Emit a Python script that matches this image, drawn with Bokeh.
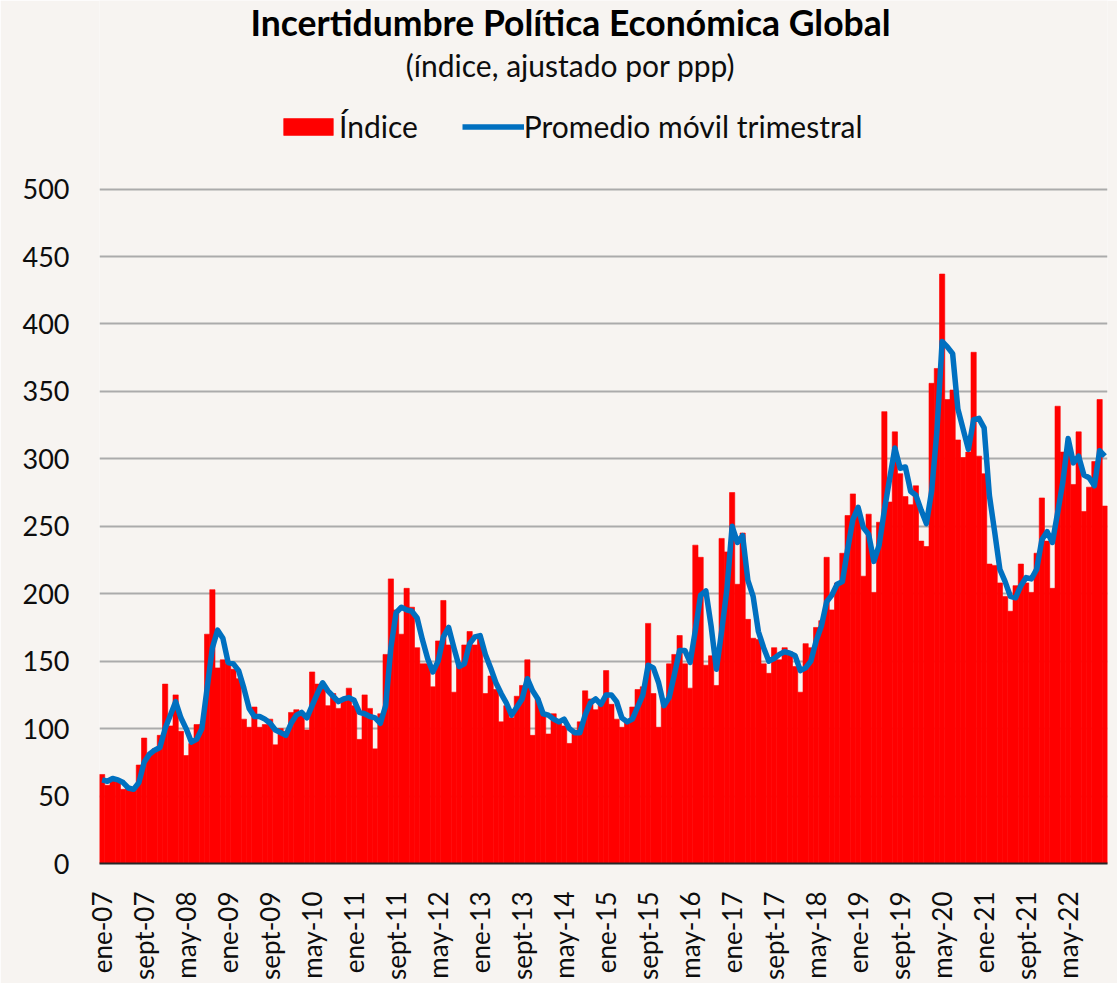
import math
from bokeh.plotting import figure
from bokeh.models import (ColumnDataSource, FixedTicker, Legend, LegendItem, Label, Range1d)
from bokeh.embed import file_html
from bokeh.resources import INLINE

# ---------------- data ----------------
tick_labels = ["ene-07", "sept-07", "may-08", "ene-09", "sept-09", "may-10", "ene-11", "sept-11",
               "may-12", "ene-13", "sept-13", "may-14", "ene-15", "sept-15", "may-16", "ene-17",
               "sept-17", "may-18", "ene-19", "sept-19", "may-20", "ene-21", "sept-21", "may-22"]

# Monthly index, Jan 2007 - Dec 2022 (one row per year)
indice = [
    66, 58, 62, 61, 55, 57, 55, 73, 93, 80, 85, 95,            # 2007
    133, 102, 125, 98, 80, 89, 103, 103, 170, 203, 145, 151,   # 2008
    148, 144, 137, 107, 101, 116, 101, 103, 107, 88, 100, 98,  # 2009
    112, 114, 110, 99, 142, 133, 130, 117, 126, 115, 121, 130, # 2010
    117, 92, 125, 115, 85, 111, 155, 211, 188, 170, 204, 190,  # 2011
    160, 148, 148, 131, 165, 195, 162, 127, 147, 162, 172, 162,# 2012
    167, 126, 139, 129, 105, 117, 108, 124, 132, 151, 95, 122, # 2013
    111, 96, 111, 105, 102, 89, 97, 105, 128, 122, 114, 118,   # 2014
    143, 118, 107, 101, 105, 116, 129, 131, 178, 126, 101, 120,# 2015
    148, 155, 169, 148, 130, 236, 227, 147, 154, 132, 241, 231,# 2016
    275, 207, 245, 181, 167, 166, 148, 141, 160, 151, 160, 157,# 2017
    146, 127, 163, 160, 175, 180, 227, 188, 208, 230, 258, 274,# 2018
    258, 213, 259, 201, 253, 335, 268, 320, 289, 272, 266, 280,# 2019
    239, 235, 356, 367, 437, 344, 351, 314, 301, 305, 379, 302,# 2020
    289, 222, 221, 208, 198, 187, 206, 222, 208, 201, 230, 271,# 2021
    239, 204, 339, 305, 305, 281, 320, 261, 279, 298, 344, 265,# 2022
]

# Three-month moving average
promedio = [
    62, 61, 63, 62, 60, 56, 55, 60, 75, 81, 84, 86,            # 2007
    100, 110, 120, 108, 100, 90, 92, 100, 130, 160, 173, 167,  # 2008
    149, 148, 143, 130, 115, 109, 109, 107, 104, 99, 97, 95,   # 2009
    104, 110, 112, 108, 117, 126, 134, 128, 124, 120, 122, 123,# 2010
    121, 112, 111, 109, 108, 104, 117, 160, 186, 190, 188, 187,# 2011
    182, 166, 152, 142, 150, 168, 175, 160, 146, 148, 163, 168,# 2012
    169, 155, 145, 134, 126, 119, 110, 116, 122, 137, 128, 122,# 2013
    111, 110, 107, 105, 107, 100, 97, 97, 110, 119, 122, 118,  # 2014
    125, 125, 120, 108, 105, 107, 116, 125, 147, 145, 134, 117,# 2015
    123, 140, 158, 158, 149, 173, 199, 202, 176, 144, 172, 203,# 2016
    250, 238, 243, 210, 198, 172, 160, 150, 152, 155, 157, 156,# 2017
    154, 143, 145, 150, 165, 176, 194, 199, 207, 209, 233, 255,# 2018
    264, 249, 244, 224, 236, 262, 285, 308, 293, 294, 276, 273,# 2019
    262, 252, 276, 320, 387, 383, 378, 337, 322, 307, 329, 330,# 2020
    323, 273, 246, 218, 209, 198, 197, 206, 212, 211, 218, 240,# 2021
    246, 238, 260, 283, 315, 297, 302, 288, 286, 280, 306, 302,# 2022
]

titulo = "Incertidumbre Política Económica Global"
subtitulo = "(índice, ajustado por ppp)"
serie_barras = "Índice"
serie_linea = "Promedio móvil trimestral"

mes = list(range(len(indice)))

# ---------------- figure ----------------
BG = "#F7F4F1"
FONT = "Lato"
W, H = 1117, 983
LEFT, RIGHT, BOTTOM = 99, 10, 118          # frame: x 99..1107, y 0..865
PX_PER_UNIT = 1.352                         # 500 units span 676 px
y_top = (H - BOTTOM) / PX_PER_UNIT          # frame reaches the top of the canvas

p = figure(width=W, height=H, output_backend="svg", toolbar_location=None,
           title=None,
           x_range=Range1d(-0.5, len(indice) - 0.5), y_range=Range1d(0, y_top),
           background_fill_color=BG, border_fill_color=BG,
           min_border_left=LEFT, min_border_right=RIGHT, min_border_bottom=BOTTOM, min_border_top=0)
p.outline_line_color = None

src = ColumnDataSource(dict(mes=mes, indice=indice, promedio=promedio))
bars = p.vbar(x="mes", top="indice", width=1.0, source=src,
              fill_color="#FF0000", line_color="#FF0000", line_width=0.6)
linea = p.line(x="mes", y="promedio", source=src, line_color="#0070C0",
               line_width=5.5, line_join="round", line_cap="butt")

# axes
p.yaxis.ticker = FixedTicker(ticks=list(range(0, 501, 50)))
p.yaxis.axis_line_color = None
p.yaxis.major_tick_line_color = None
p.yaxis.minor_tick_line_color = None
p.yaxis.major_tick_out = 0
p.yaxis.major_label_standoff = 30
p.yaxis.major_label_text_font = FONT
p.yaxis.major_label_text_font_size = "27px"
p.yaxis.major_label_text_color = "#0D0D0D"

p.xaxis.ticker = FixedTicker(ticks=[8 * i for i in range(len(tick_labels))])
p.xaxis.major_label_overrides = {8 * i: lab for i, lab in enumerate(tick_labels)}
p.xaxis.major_label_orientation = math.pi / 2
p.xaxis.axis_line_color = "#262626"
p.xaxis.axis_line_width = 2
p.xaxis.major_tick_line_color = None
p.xaxis.minor_tick_line_color = None
p.xaxis.major_tick_out = 0
p.xaxis.major_label_standoff = 28
p.xaxis.major_label_text_font = FONT
p.xaxis.major_label_text_font_size = "26px"
p.xaxis.major_label_text_color = "#0D0D0D"

p.xgrid.grid_line_color = None
p.ygrid.grid_line_color = "#ABABAB"
p.ygrid.grid_line_width = 2

# title and subtitle (inside the top of the frame, above the 500 gridline)
x_centro = (570 - LEFT) / 5.25 - 0.5
p.add_layout(Label(x=x_centro, y=(H - BOTTOM - 22) / PX_PER_UNIT, text=titulo,
                   text_align="center", text_baseline="middle",
                   text_font=FONT, text_font_size="35.5px", text_font_style="bold",
                   text_color="#000000"))
p.add_layout(Label(x=x_centro, y=(H - BOTTOM - 65) / PX_PER_UNIT, text=subtitulo,
                   text_align="center", text_baseline="middle",
                   text_font=FONT, text_font_size="30px", text_color="#0D0D0D"))

legend = Legend(items=[LegendItem(label=serie_barras, renderers=[bars]),
                       LegendItem(label=serie_linea, renderers=[linea])],
                orientation="horizontal", location=(178, 719),
                glyph_width=62, glyph_height=21, label_standoff=-2, spacing=44,
                label_text_font=FONT, label_text_font_size="30px", label_text_color="#0D0D0D",
                background_fill_alpha=0, border_line_color=None, margin=0, padding=5)
p.add_layout(legend)

open("out.html", "w").write(file_html(p, INLINE))
